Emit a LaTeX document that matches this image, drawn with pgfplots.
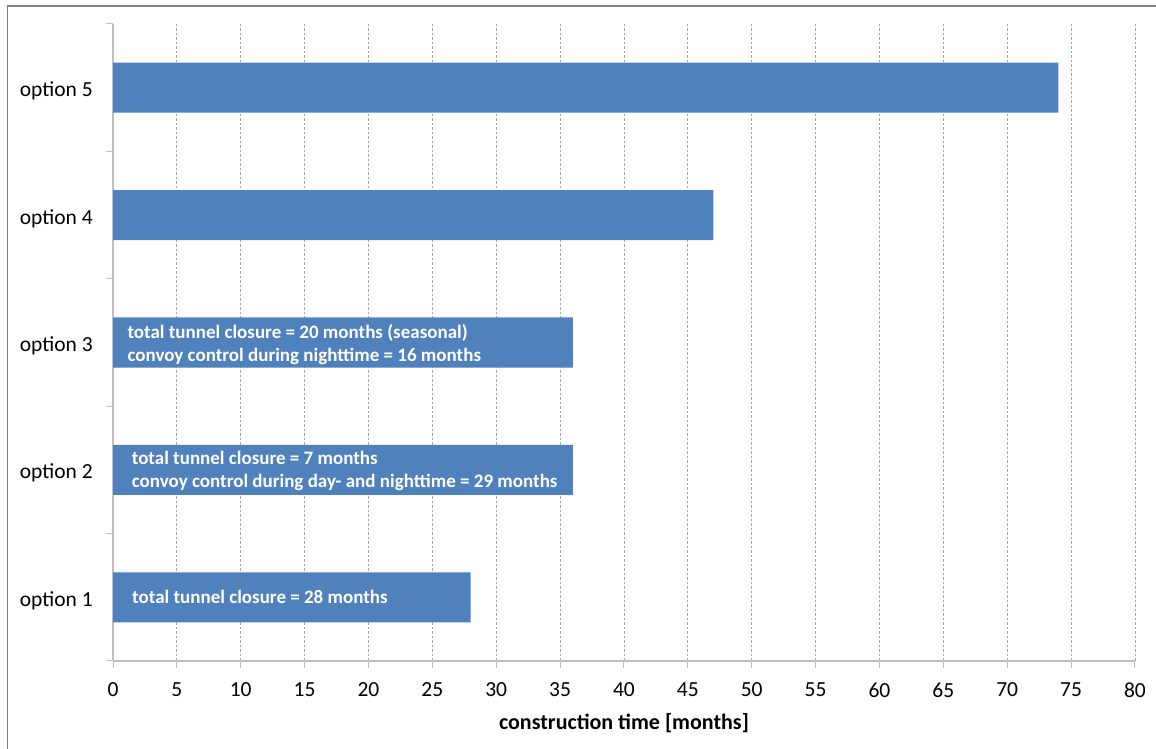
\documentclass[border=0pt]{standalone}
\usepackage{fontspec}
\setmainfont{Carlito}
\usepackage{pgfplots}
\pgfplotsset{compat=1.18}
\definecolor{barblue}{HTML}{4F81BD}
\definecolor{axisgray}{HTML}{BFBFBF}
\definecolor{gridgray}{HTML}{A6A6A6}
\definecolor{framegray}{HTML}{808080}
\begin{document}
\begin{tikzpicture}[x=1bp,y=1bp]
\useasboundingbox (0,0) rectangle (1156,749);
\draw[framegray, line width=1.2bp] (7.5,0) -- (7.5,743) -- (1156,743);
\begin{axis}[
  at={(113bp,88bp)}, anchor=south west,
  width=1022bp, height=637bp, scale only axis,
  xmin=0, xmax=80, ymin=0.5, ymax=5.5,
  xbar, bar width=0.393,
  xtick={0,5,...,80},
  xmajorgrids, grid style={gridgray, dash pattern=on 2.5bp off 2bp, line width=0.8bp},
  axis x line*=bottom, axis y line*=left,
  axis line style={axisgray, line width=1.3bp},
  tick style={axisgray, line width=1bp},
  tick align=outside, major tick length=7bp,
  ytick={0.5,1.5,...,5.5}, yticklabels={},
  extra y ticks={1,2,3,4,5},
  extra y tick labels={option 1,option 2,option 3,option 4,option 5},
  extra y tick style={major tick length=0pt,
    yticklabel style={anchor=base east, inner sep=0pt, xshift=-20bp, yshift=-9bp}},
  yticklabel style={font=\fontsize{21.5bp}{26bp}\selectfont, text=black},
  xticklabel style={font=\fontsize{21.5bp}{26bp}\selectfont, text=black, yshift=-11bp},
  /pgf/number format/assume math mode=true,
  xlabel={\textbf{construction time [months]}},
  xlabel style={font=\fontsize{22bp}{26bp}\selectfont, text=black,
    at={(axis description cs:0.5,0)}, anchor=base, yshift=-69bp},
]
\addplot[fill=barblue, draw=none] coordinates {(28,1) (36,2) (36,3) (47,4) (74,5)};
\begin{scope}[every node/.style={font=\fontsize{19bp}{23bp}\selectfont\bfseries, text=white, anchor=base west, inner sep=0pt}]
\node[yshift=4bp] at (axis cs:1.12,3) {total tunnel closure = 20 months (seasonal)};
\node[yshift=-19bp] at (axis cs:1.12,3) {convoy control during nighttime = 16 months};
\node[yshift=5bp] at (axis cs:1.46,2) {total tunnel closure = 7 months};
\node[yshift=-18bp] at (axis cs:1.46,2) {convoy control during day- and nighttime = 29 months};
\node[yshift=-6.5bp] at (axis cs:1.49,1) {total tunnel closure = 28 months};
\end{scope}
\end{axis}
\end{tikzpicture}
\end{document}
